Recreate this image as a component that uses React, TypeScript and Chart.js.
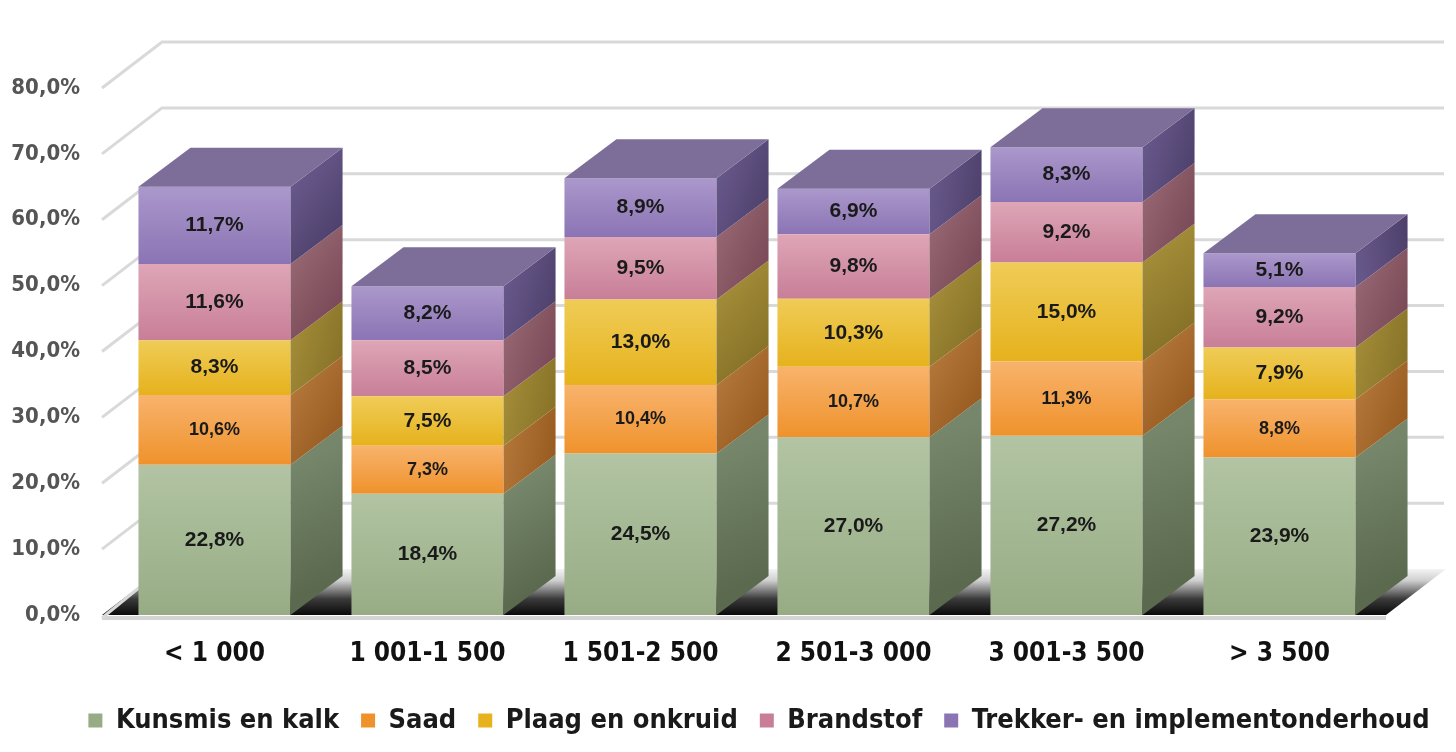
import { useEffect, useRef } from "react";
import { Chart, registerables, type Plugin } from "chart.js";

Chart.register(...registerables);

// --- data ---
const categories = ["< 1 000", "1 001-1 500", "1 501-2 500", "2 501-3 000", "3 001-3 500", "> 3 500"];
const seriesNames = ["Kunsmis en kalk", "Saad", "Plaag en onkruid", "Brandstof", "Trekker- en implementonderhoud"];
const kunsmis = [22.8, 18.4, 24.5, 27.0, 27.2, 23.9];
const saad = [10.6, 7.3, 10.4, 10.7, 11.3, 8.8];
const plaag = [8.3, 7.5, 13.0, 10.3, 15.0, 7.9];
const brandstof = [11.6, 8.5, 9.5, 9.8, 9.2, 9.2];
const trekker = [11.7, 8.2, 8.9, 6.9, 8.3, 5.1];
const series = [kunsmis, saad, plaag, brandstof, trekker];
const yMax = 80;
const yStep = 10;

// --- styling ---
const frontTop = ["#b2c4a3", "#f8b36c", "#efcc57", "#dea6b7", "#ab98cb"];
const frontBottom = ["#97ac85", "#ef922c", "#e6b21d", "#c87e97", "#8b74b4"];
const sideTop = ["#75866a", "#b27639", "#a28c38", "#956571", "#67588b"];
const sideBottom = ["#5b694f", "#985c22", "#877228", "#7a4a58", "#4f416c"];
const topFace = "#7d6e99";
const labelSize = [21, 18, 21, 21, 21];
const GOTHIC = "'DejaVu Sans Condensed', 'DejaVu Sans', sans-serif";

// bar depth and back-wall depth in pixels
const DX = 52;
const DY = -39;
const WX = 60;
const WY = -46;

const fmt = (v: number) => v.toFixed(1).replace(".", ",") + "%";

function frontFill(si: number) {
  return (ctx: any) => {
    const chart = ctx.chart;
    if (ctx.type !== "data" || !chart.chartArea || !chart.scales.y) return frontBottom[si];
    const i = ctx.dataIndex;
    let base = 0;
    for (let k = 0; k < si; k++) base += series[k][i];
    const yb = chart.scales.y.getPixelForValue(base);
    const yt = chart.scales.y.getPixelForValue(base + series[si][i]);
    const g = chart.ctx.createLinearGradient(0, yt, 0, yb);
    g.addColorStop(0, frontTop[si]);
    g.addColorStop(1, frontBottom[si]);
    return g;
  };
}

const fake3d: Plugin = {
  id: "fake3d",
  afterLayout(chart: any) {
    // the original legend sits right of centre
    if (chart.legend) chart.legend.left = 62;
  },
  beforeDatasetsDraw(chart) {
    const { ctx, chartArea, scales } = chart;
    const y = scales.y;
    const left = chartArea.left - 6;
    const right = chartArea.right;
    const y0 = y.getPixelForValue(0);
    ctx.save();

    // floor shadow
    const fg = ctx.createLinearGradient(0, y0, 0, y0 + WY);
    fg.addColorStop(0, "#0a0a0a");
    fg.addColorStop(0.35, "#3a3a3a");
    fg.addColorStop(0.75, "#cfcfcf");
    fg.addColorStop(1, "#f4f4f4");
    ctx.fillStyle = fg;
    ctx.beginPath();
    ctx.moveTo(left, y0);
    ctx.lineTo(right, y0);
    ctx.lineTo(right + WX, y0 + WY);
    ctx.lineTo(left + WX, y0 + WY);
    ctx.closePath();
    ctx.fill();
    // floor front edge
    ctx.fillStyle = "#d4d4d4";
    ctx.fillRect(left, y0 + 1, right - left, 4);

    // back wall gridlines
    ctx.strokeStyle = "#d9d9d9";
    ctx.lineWidth = 3;
    for (let v = yStep; v <= yMax; v += yStep) {
      const py = y.getPixelForValue(v);
      ctx.beginPath();
      ctx.moveTo(left, py);
      ctx.lineTo(left + WX, py + WY);
      ctx.lineTo(right + WX - 2, py + WY);
      ctx.stroke();
    }
    ctx.beginPath();
    ctx.moveTo(left, y0 + 3);
    ctx.lineTo(left + WX, y0 + WY);
    ctx.stroke();
    ctx.restore();
  },
  afterDatasetsDraw(chart) {
    const { ctx } = chart;
    const n = chart.data.datasets.length;
    ctx.save();
    for (let si = 0; si < n; si++) {
      const meta = chart.getDatasetMeta(si);
      meta.data.forEach((el: any) => {
        const p = el.getProps(["x", "y", "base", "width"], true);
        const L = p.x - p.width / 2;
        const R = p.x + p.width / 2;
        const top = Math.min(p.y, p.base);
        const bot = Math.max(p.y, p.base);
        // side face
        const sg = ctx.createLinearGradient(R, top, R + DX, bot + DY);
        sg.addColorStop(0, sideTop[si]);
        sg.addColorStop(1, sideBottom[si]);
        ctx.fillStyle = sg;
        ctx.beginPath();
        ctx.moveTo(R, bot);
        ctx.lineTo(R, top);
        ctx.lineTo(R + DX, top + DY);
        ctx.lineTo(R + DX, bot + DY);
        ctx.closePath();
        ctx.fill();
        if (si === n - 1) {
          ctx.fillStyle = topFace;
          ctx.beginPath();
          ctx.moveTo(L, top);
          ctx.lineTo(R, top);
          ctx.lineTo(R + DX, top + DY);
          ctx.lineTo(L + DX, top + DY);
          ctx.closePath();
          ctx.fill();
        }
      });
    }
    // value labels on front faces
    ctx.fillStyle = "#1a1a1a";
    ctx.textAlign = "center";
    ctx.textBaseline = "middle";
    for (let si = 0; si < n; si++) {
      const meta = chart.getDatasetMeta(si);
      ctx.font = `bold ${labelSize[si]}px 'Liberation Sans', Arial, sans-serif`;
      meta.data.forEach((el: any, i: number) => {
        const p = el.getProps(["x", "y", "base"], true);
        ctx.fillText(fmt(series[si][i]), p.x, (p.y + p.base) / 2);
      });
    }
    ctx.restore();
  },
};

export default function App() {
  const canvasRef = useRef<HTMLCanvasElement>(null);

  useEffect(() => {
    document.body.style.margin = "0";
    if (!canvasRef.current) return;
    const chart = new Chart(canvasRef.current, {
      type: "bar",
      data: {
        labels: categories,
        datasets: series.map((vals, si) => ({
          label: seriesNames[si],
          data: vals,
          backgroundColor: frontFill(si),
          borderWidth: 0,
          barPercentage: 0.714,
          categoryPercentage: 1,
        })),
      },
      options: {
        responsive: true,
        maintainAspectRatio: false,
        animation: false,
        layout: { padding: { top: 88, left: 8, right: 0, bottom: 8 } },
        plugins: {
          tooltip: { enabled: false },
          legend: {
            position: "bottom",
            labels: {
              boxWidth: 14,
              boxHeight: 14,
              padding: 22,
              color: "#1a1a1a",
              font: { family: GOTHIC, size: 27, weight: "bold" },
            },
          },
        },
        scales: {
          x: {
            stacked: true,
            grid: { display: false, drawTicks: false },
            border: { display: false },
            ticks: {
              color: "#111111",
              padding: 24,
              font: { family: GOTHIC, size: 26, weight: "bold" },
            },
            afterFit: (s: any) => {
              s.height = 70;
            },
          },
          y: {
            stacked: true,
            min: 0,
            max: yMax,
            grid: { display: false, drawTicks: false },
            border: { display: false },
            ticks: {
              stepSize: yStep,
              padding: 28,
              color: "#555555",
              font: { family: GOTHIC, size: 22, weight: "bold" },
              callback: (v: any) => fmt(Number(v)),
            },
            afterFit: (s: any) => {
              s.width = 100;
            },
          },
          // empty right-hand box: keeps the plot clear of the back wall
          yRight: {
            position: "right",
            grid: { display: false, drawTicks: false },
            border: { display: false },
            ticks: { display: false },
            afterFit: (s: any) => {
              s.width = 70;
            },
          },
        },
      },
      plugins: [fake3d],
    });
    return () => chart.destroy();
  }, []);

  return (
    <div style={{ position: "relative", width: "1456px", height: "752px", background: "#ffffff" }}>
      <canvas ref={canvasRef} />
    </div>
  );
}
